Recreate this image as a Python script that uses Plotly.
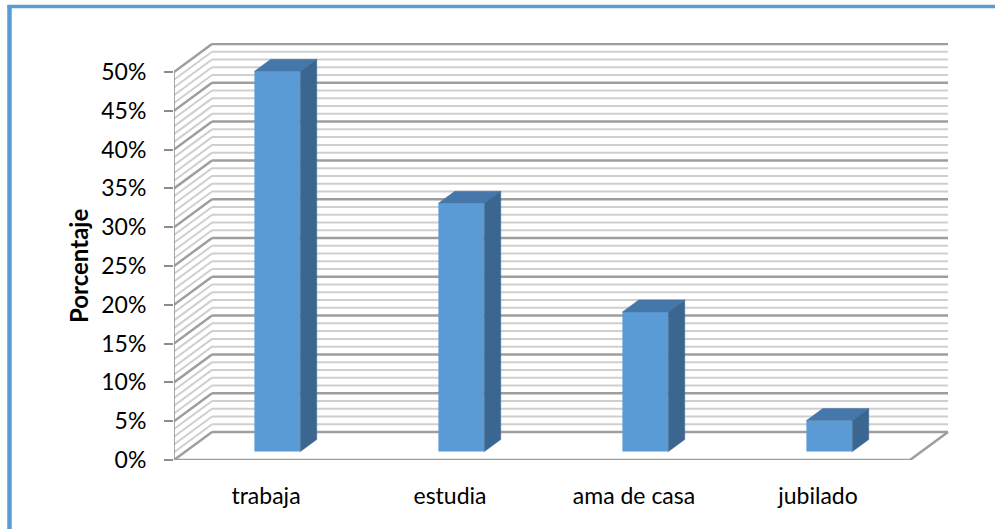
import plotly.graph_objects as go

# ---- data ----
categories = ["trabaja", "estudia", "ama de casa", "jubilado"]
values = [49, 32, 18, 4]          # percent
tick_values = [0, 5, 10, 15, 20, 25, 30, 35, 40, 45, 50]
tick_labels = [f"{v}%" for v in tick_values]
y_title = "Porcentaje"

# ---- geometry of the oblique (pseudo 3D) projection, in data units ----
W, H = 995, 529
ML, MR, MT, MB = 174, 45, 43, 69
PX_PER_CAT = 184.0
PX_PER_PCT = 7.76
DX = 38 / PX_PER_CAT            # depth offset in category units
DY = 28 / PX_PER_PCT            # depth offset in percent units
F0, F1 = 0.30, 0.73             # bar front/back depth fractions
BAR_W = 0.25
xmin = -0.5
xmax = xmin + (W - ML - MR) / PX_PER_CAT
ymax = (H - MT - MB) / PX_PER_PCT
ncat = len(categories)
x_left, x_right = -0.5, ncat - 0.5
vmax = max(tick_values)

FRONT = "#5B9BD5"
TOP = "#4677AA"
SIDE = "#3A6690"
MAJOR = "#9E9E9E"
MINOR = "#CFCFCF"

shapes = []
# back wall + side wall gridlines every 1%
for v in range(0, vmax + 1):
    major = (v % 5 == 0)
    col = MAJOR if major else MINOR
    wd = 2.5 if major else 2
    shapes.append(dict(type="line", xref="x", yref="y", layer="below",
                       x0=x_left + DX, y0=v + DY, x1=x_right + DX, y1=v + DY,
                       line=dict(color=col, width=wd)))
    shapes.append(dict(type="line", xref="x", yref="y", layer="below",
                       x0=x_left, y0=v, x1=x_left + DX, y1=v + DY,
                       line=dict(color=col, width=wd)))
# floor outline
shapes.append(dict(type="line", xref="x", yref="y", layer="below",
                   x0=x_left, y0=0, x1=x_right, y1=0,
                   line=dict(color=MAJOR, width=2.5)))
shapes.append(dict(type="line", xref="x", yref="y", layer="below",
                   x0=x_right, y0=0, x1=x_right + DX, y1=DY,
                   line=dict(color=MAJOR, width=2.5)))
# front vertical axis line
shapes.append(dict(type="line", xref="x", yref="y", layer="below",
                   x0=x_left, y0=0, x1=x_left, y1=vmax,
                   line=dict(color="#8C8C8C", width=1.5)))

# blue frame (left & top) in paper coordinates
pw, ph = W - ML - MR, H - MT - MB
def px_to_paper_x(px):
    return (px - ML) / pw
def px_to_paper_y(py):
    return (H - MB - py) / ph
shapes.append(dict(type="line", xref="paper", yref="paper", layer="above",
                   x0=px_to_paper_x(9.5), y0=px_to_paper_y(5), x1=px_to_paper_x(9.5), y1=px_to_paper_y(540),
                   line=dict(color="#5B9BD5", width=4.5)))
shapes.append(dict(type="line", xref="paper", yref="paper", layer="above",
                   x0=px_to_paper_x(7.5), y0=px_to_paper_y(6.5), x1=px_to_paper_x(1010), y1=px_to_paper_y(6.5),
                   line=dict(color="#5B9BD5", width=3.5)))

fig = go.Figure()

b0 = F0 * DY
xs = [i + F0 * DX for i in range(ncat)]
fig.add_trace(go.Bar(x=xs, y=values, base=[b0] * ncat, width=BAR_W,
                     marker=dict(color=FRONT, line=dict(width=0)),
                     hoverinfo="skip"))

ddx = (F1 - F0) * DX
ddy = (F1 - F0) * DY
for xc, v in zip(xs, values):
    xl, xr = xc - BAR_W / 2, xc + BAR_W / 2
    top = v + b0
    # top face
    fig.add_trace(go.Scatter(
        x=[xl, xr, xr + ddx, xl + ddx, xl],
        y=[top, top, top + ddy, top + ddy, top],
        mode="lines", fill="toself", fillcolor=TOP,
        line=dict(width=0.5, color=TOP), hoverinfo="skip"))
    # side face
    fig.add_trace(go.Scatter(
        x=[xr, xr + ddx, xr + ddx, xr, xr],
        y=[b0, b0 + ddy, top + ddy, top, b0],
        mode="lines", fill="toself", fillcolor=SIDE,
        line=dict(width=0.5, color=SIDE), hoverinfo="skip"))

fig.add_annotation(text=f"<b>{y_title}</b>", xref="paper", yref="y",
                   x=px_to_paper_x(78), y=vmax / 2, textangle=-90,
                   showarrow=False, xanchor="center", yanchor="middle",
                   font=dict(family="Lato", size=24, color="black"))

fig.update_layout(
    width=W, height=H,
    margin=dict(l=ML, r=MR, t=MT, b=MB, pad=0),
    paper_bgcolor="white", plot_bgcolor="white",
    showlegend=False,
    font=dict(family="Lato", size=23, color="black"),
    shapes=shapes,
    xaxis=dict(range=[xmin, xmax], tickvals=list(range(ncat)), ticktext=categories,
               showgrid=False, zeroline=False, showline=False,
               ticks="outside", ticklen=0, ticklabelstandoff=15,
               tickfont=dict(family="Lato", size=23, color="black"), fixedrange=True),
    yaxis=dict(range=[0, ymax], tickvals=tick_values, ticktext=tick_labels,
               showgrid=False, zeroline=False, showline=False,
               ticks="outside", ticklen=9, tickwidth=1.5, tickcolor="#8C8C8C",
               ticklabelstandoff=13,
               tickfont=dict(family="Lato", size=23, color="black"), fixedrange=True),
)

fig.write_html("out.html", config={"displayModeBar": False},
               post_script="document.body.style.margin='0';document.body.style.overflow='hidden';")
